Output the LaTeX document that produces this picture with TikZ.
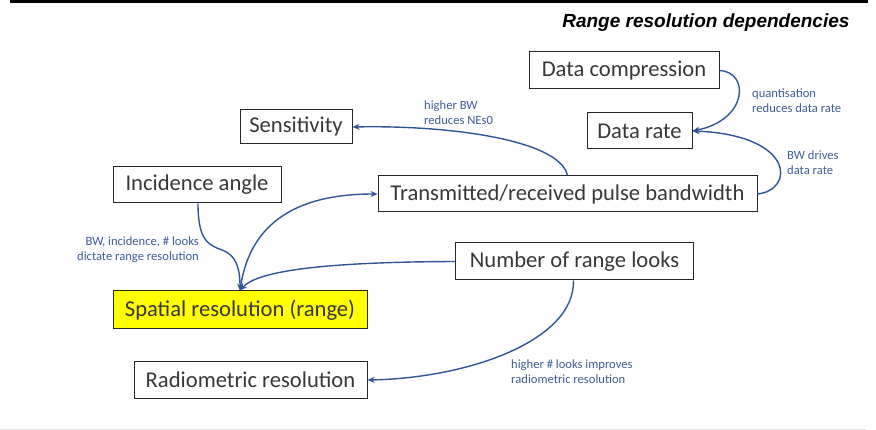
\documentclass[tikz,border=0pt]{standalone}
\usepackage{fontspec}
\setmainfont{Carlito}
\newfontfamily\titlefont{Liberation Sans}
\usetikzlibrary{arrows.meta}
\definecolor{linkblue}{RGB}{47,85,151}
\definecolor{noteblue}{RGB}{62,92,150}
\definecolor{hiyellow}{RGB}{255,255,0}

\begin{document}
\begin{tikzpicture}[x=1pt, y=-1pt,
  box/.style={draw=black!85, line width=1pt, fill=white, align=center, inner sep=0pt, minimum height=36pt, font=\fontsize{22.6}{26}\selectfont, text=black!78},
  note/.style={align=left, inner sep=0pt, font=\fontsize{12.6}{15}\selectfont, text=noteblue},
  arr/.style={-{Stealth[length=7pt, width=6pt]}, line width=1.4pt, draw=linkblue}
]
\useasboundingbox (0,0) rectangle (876,430);
\fill[black] (10,0) rectangle (868,3);
\draw[black!12, line width=1pt] (0,429) -- (866,429);
\node[anchor=east, font=\titlefont\bfseries\itshape\fontsize{19}{22}\selectfont] (title) at (853,23) {Range resolution dependencies};

\node[box, minimum width=190pt, minimum height=37pt] (comp) at (624,70.5) {Data compression};
\node[box, minimum width=105pt] (rate) at (639.5,131) {Data rate};
\node[box, minimum width=112pt, minimum height=34pt] (sens) at (296,127) {Sensitivity};
\node[box, minimum width=168pt] (inc) at (197,185) {Incidence angle};
\node[box, minimum width=379pt] (bw) at (567.5,194) {Transmitted/received pulse bandwidth};
\node[box, minimum width=238pt, minimum height=37pt] (looks) at (574.5,261.5) {Number of range looks};
\node[box, fill=hiyellow, minimum width=254pt, minimum height=38pt] (spat) at (240,310) {Spatial resolution (range)};
\node[box, minimum width=233pt, minimum height=37pt] (rad) at (250.5,380) {Radiometric resolution};

\node[note, anchor=west] (nsens) at (424,112.5) {higher BW\\reduces NEs0};
\node[note, anchor=west] (ncomp) at (752,101) {quantisation\\reduces data rate};
\node[note, anchor=west] (nrate) at (787,163) {BW drives\\data rate};
\node[note, align=right, anchor=east] (nspat) at (199,249.5) {BW, incidence, \# looks\\dictate range resolution};
\node[note, anchor=west] (nrad) at (511,372) {higher \# looks improves\\radiometric resolution};

\coordinate (bend) at (222,250);
\draw[arr] (comp.east) .. controls (750,72) and (748,120) .. (rate.east);
\draw[arr] (bw.east) .. controls (795,190) and (795,135) .. (rate.east);
\draw[arr] (bw.north) .. controls (560,140) and (450,125) .. (sens.east);
\draw[arr] ([xshift=1pt]inc.south) .. controls (198,240) and (208,245) .. (bend) .. controls (236,255) and (240,268) .. (spat.north);
\draw[arr] (spat.north) .. controls (248,228) and (290,194) .. (bw.west);
\draw[arr] (looks.west) .. controls (330,262) and (258,270) .. (spat.north);
\draw[arr] ([xshift=-1pt]looks.south) .. controls (575,340) and (470,378) .. (rad.east);
\end{tikzpicture}
\end{document}
